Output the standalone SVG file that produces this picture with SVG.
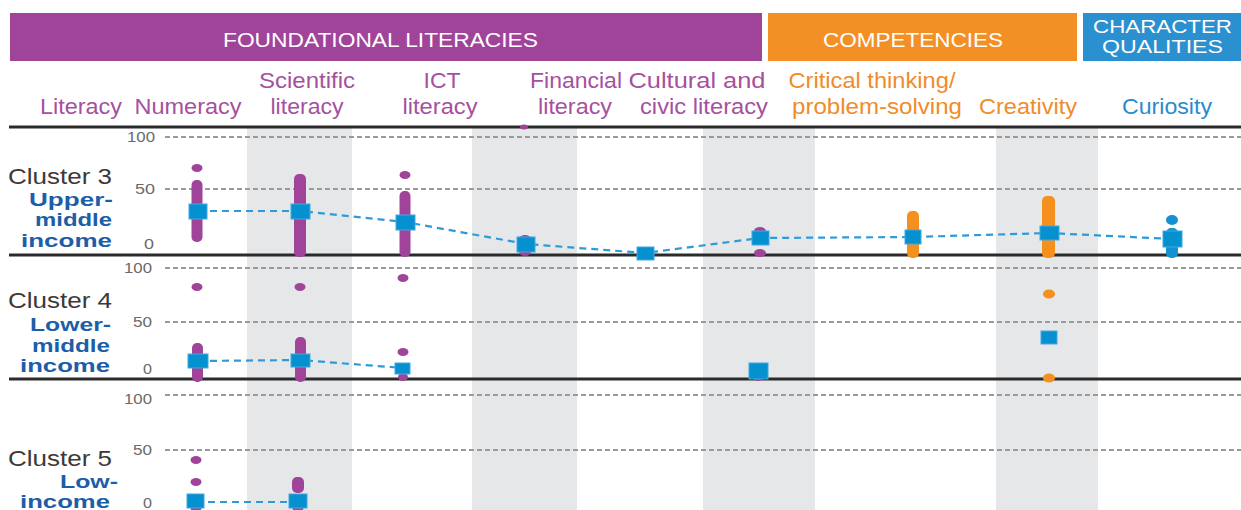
<svg xmlns="http://www.w3.org/2000/svg" width="1241" height="510" viewBox="0 0 1241 510">
<style>
text{font-family:"Liberation Sans",Arial,sans-serif}
.hd{fill:#fff;font-size:20px}
.hd2{fill:#fff;font-size:19px}
.cl{font-size:22px;text-anchor:middle}
.pu{fill:#a6509f}
.or{fill:#f08c2a}
.bl{fill:#2a8bcb}
.cn{fill:#3a3a3a;font-size:22px}
.inc{fill:#1c5ea8;font-size:18px;font-weight:bold;text-anchor:end}
.ax{fill:#6a6a6a;font-size:14px;text-anchor:end}
.band{fill:#e6e7e9}
.grid{stroke:#9a9a9a;stroke-width:2;stroke-dasharray:5 3;fill:none}
.base{stroke:#2b2b2b;stroke-width:3}
.dp{fill:#a0449a}
.do{fill:#f5901e}
.db{fill:#1591d2}
.sq{fill:#0590d0;stroke:#45a8de;stroke-width:1}
.link{stroke:#2e9bd8;stroke-width:2.2;stroke-dasharray:7 5;fill:none}
</style>

<g id="header">
<rect x="10" y="13" width="752" height="48" fill="#a0449a"/>
<rect x="768" y="13" width="309" height="48" fill="#f39025"/>
<rect x="1083" y="13" width="158" height="48" fill="#2b90d0"/>
<text class="hd" x="223" y="47" textLength="315" lengthAdjust="spacingAndGlyphs">FOUNDATIONAL LITERACIES</text>
<text class="hd" x="823" y="47" textLength="180" lengthAdjust="spacingAndGlyphs">COMPETENCIES</text>
<text class="hd2" x="1093" y="33" textLength="139" lengthAdjust="spacingAndGlyphs">CHARACTER</text>
<text class="hd2" x="1102" y="53" textLength="121" lengthAdjust="spacingAndGlyphs">QUALITIES</text>
</g>

<g id="column-labels">
<text class="cl pu" x="81" y="114" textLength="82" lengthAdjust="spacingAndGlyphs">Literacy</text>
<text class="cl pu" x="188" y="114" textLength="107" lengthAdjust="spacingAndGlyphs">Numeracy</text>
<text class="cl pu" x="307" y="88" textLength="96" lengthAdjust="spacingAndGlyphs">Scientific</text>
<text class="cl pu" x="307" y="114" textLength="73" lengthAdjust="spacingAndGlyphs">literacy</text>
<text class="cl pu" x="442" y="88" textLength="37" lengthAdjust="spacingAndGlyphs">ICT</text>
<text class="cl pu" x="440" y="114" textLength="75" lengthAdjust="spacingAndGlyphs">literacy</text>
<text class="cl pu" x="576" y="88" textLength="92" lengthAdjust="spacingAndGlyphs">Financial</text>
<text class="cl pu" x="575" y="114" textLength="74" lengthAdjust="spacingAndGlyphs">literacy</text>
<text class="cl pu" x="697" y="88" textLength="137" lengthAdjust="spacingAndGlyphs">Cultural and</text>
<text class="cl pu" x="704" y="114" textLength="128" lengthAdjust="spacingAndGlyphs">civic literacy</text>
<text class="cl or" x="872" y="88" textLength="167" lengthAdjust="spacingAndGlyphs">Critical thinking/</text>
<text class="cl or" x="877" y="114" textLength="170" lengthAdjust="spacingAndGlyphs">problem-solving</text>
<text class="cl or" x="1028" y="114" textLength="98" lengthAdjust="spacingAndGlyphs">Creativity</text>
<text class="cl bl" x="1167" y="114" textLength="90" lengthAdjust="spacingAndGlyphs">Curiosity</text>
</g>

<g id="bands">
<rect class="band" x="247" y="128" width="105" height="382"/>
<rect class="band" x="472" y="128" width="105" height="382"/>
<rect class="band" x="703" y="128" width="112" height="382"/>
<rect class="band" x="996" y="128" width="102" height="382"/>
</g>

<g id="grid">
<line class="grid" x1="165" y1="137" x2="1241" y2="137"/>
<line class="grid" x1="165" y1="189" x2="1241" y2="189"/>
<line class="grid" x1="165" y1="268" x2="1241" y2="268"/>
<line class="grid" x1="165" y1="322" x2="1241" y2="322"/>
<line class="grid" x1="165" y1="395" x2="1241" y2="395"/>
<line class="grid" x1="165" y1="450" x2="1241" y2="450"/>
<line class="base" x1="9" y1="127" x2="1241" y2="127"/>
<line class="base" x1="9" y1="255" x2="1241" y2="255"/>
<line class="base" x1="9" y1="379" x2="1241" y2="379"/>
</g>

<g id="axis-labels">
<text class="ax" x="155" y="142" textLength="28" lengthAdjust="spacingAndGlyphs">100</text>
<text class="ax" x="155" y="194" textLength="20" lengthAdjust="spacingAndGlyphs">50</text>
<text class="ax" x="154" y="249" textLength="10" lengthAdjust="spacingAndGlyphs">0</text>
<text class="ax" x="152" y="273" textLength="28" lengthAdjust="spacingAndGlyphs">100</text>
<text class="ax" x="152" y="327" textLength="19" lengthAdjust="spacingAndGlyphs">50</text>
<text class="ax" x="152" y="374" textLength="9" lengthAdjust="spacingAndGlyphs">0</text>
<text class="ax" x="152" y="404" textLength="28" lengthAdjust="spacingAndGlyphs">100</text>
<text class="ax" x="152" y="455" textLength="19" lengthAdjust="spacingAndGlyphs">50</text>
<text class="ax" x="152" y="508" textLength="9" lengthAdjust="spacingAndGlyphs">0</text>
</g>

<g id="cluster-3">
<text class="cn" x="8" y="184" textLength="104" lengthAdjust="spacingAndGlyphs">Cluster 3</text>
<text class="inc" x="113" y="206" textLength="84" lengthAdjust="spacingAndGlyphs">Upper-</text>
<text class="inc" x="112" y="226" textLength="77" lengthAdjust="spacingAndGlyphs">middle</text>
<text class="inc" x="112" y="247" textLength="91" lengthAdjust="spacingAndGlyphs">income</text>
<ellipse class="dp" cx="524" cy="127" rx="4" ry="2.5"/>
<ellipse class="dp" cx="197" cy="168" rx="5.5" ry="4"/>
<rect class="dp" x="191.5" y="180" width="11" height="62" rx="5"/>
<rect class="dp" x="294" y="174" width="12" height="83" rx="5"/>
<ellipse class="dp" cx="405" cy="175" rx="5.5" ry="4"/>
<rect class="dp" x="399.5" y="191" width="11" height="66" rx="5"/>
<ellipse class="dp" cx="525" cy="239" rx="6" ry="4"/>
<ellipse class="dp" cx="525" cy="252" rx="6" ry="4"/>
<ellipse class="dp" cx="760" cy="231" rx="6" ry="4"/>
<ellipse class="dp" cx="760" cy="253" rx="6" ry="4"/>
<rect class="do" x="907" y="211" width="12" height="47" rx="5"/>
<rect class="do" x="1042" y="196" width="13" height="62" rx="5"/>
<ellipse class="db" cx="1172" cy="220" rx="6" ry="5"/>
<rect class="db" x="1166" y="228" width="12" height="30" rx="5"/>
<polyline class="link" points="198,211 300,211 405,222 526,244 645,253 760,238 913,237 1049,233 1172,239"/>
<rect class="sq" x="189" y="204" width="18" height="15"/>
<rect class="sq" x="291" y="204" width="19" height="15"/>
<rect class="sq" x="396" y="215" width="19" height="15"/>
<rect class="sq" x="517" y="237" width="18" height="15"/>
<rect class="sq" x="637" y="247" width="17" height="13"/>
<rect class="sq" x="752" y="231" width="17" height="14"/>
<rect class="sq" x="905" y="230" width="16" height="14"/>
<rect class="sq" x="1040" y="226" width="19" height="14"/>
<rect class="sq" x="1163" y="231" width="19" height="16"/>
</g>

<g id="cluster-4">
<text class="cn" x="8" y="308" textLength="104" lengthAdjust="spacingAndGlyphs">Cluster 4</text>
<text class="inc" x="111" y="331" textLength="81" lengthAdjust="spacingAndGlyphs">Lower-</text>
<text class="inc" x="110" y="352" textLength="78" lengthAdjust="spacingAndGlyphs">middle</text>
<text class="inc" x="110" y="372" textLength="90" lengthAdjust="spacingAndGlyphs">income</text>
<ellipse class="dp" cx="197" cy="287" rx="5.5" ry="4"/>
<rect class="dp" x="192" y="343" width="11" height="39" rx="5"/>
<ellipse class="dp" cx="300" cy="287" rx="5.5" ry="4"/>
<rect class="dp" x="295" y="337" width="11" height="45" rx="5"/>
<ellipse class="dp" cx="403" cy="278" rx="5.5" ry="4"/>
<ellipse class="dp" cx="403" cy="352" rx="5.5" ry="4"/>
<ellipse class="dp" cx="403" cy="377" rx="5" ry="4"/>
<ellipse class="dp" cx="758" cy="378" rx="5" ry="3"/>
<ellipse class="do" cx="1049" cy="294" rx="6" ry="4.5"/>
<ellipse class="do" cx="1049" cy="378" rx="6" ry="4.5"/>
<polyline class="link" points="198,361 300,360 403,368"/>
<rect class="sq" x="188" y="354" width="20" height="14"/>
<rect class="sq" x="291" y="354" width="19" height="13"/>
<rect class="sq" x="395" y="363" width="15" height="11"/>
<rect class="sq" x="749" y="363" width="19" height="16"/>
<rect class="sq" x="1041" y="331" width="16" height="13"/>
</g>

<g id="cluster-5">
<text class="cn" x="8" y="466" textLength="104" lengthAdjust="spacingAndGlyphs">Cluster 5</text>
<text class="inc" x="118" y="488" textLength="58" lengthAdjust="spacingAndGlyphs">Low-</text>
<text class="inc" x="110" y="508" textLength="90" lengthAdjust="spacingAndGlyphs">income</text>
<ellipse class="dp" cx="196" cy="460" rx="5.5" ry="4"/>
<ellipse class="dp" cx="196" cy="482" rx="5.5" ry="4"/>
<ellipse class="dp" cx="196" cy="508" rx="5.5" ry="4"/>
<rect class="dp" x="292" y="477" width="12" height="16" rx="5"/>
<ellipse class="dp" cx="298" cy="508" rx="5.5" ry="4"/>
<polyline class="link" points="196,502 298,502"/>
<rect class="sq" x="187" y="494" width="17" height="14"/>
<rect class="sq" x="289" y="494" width="18" height="14"/>
</g>
</svg>
